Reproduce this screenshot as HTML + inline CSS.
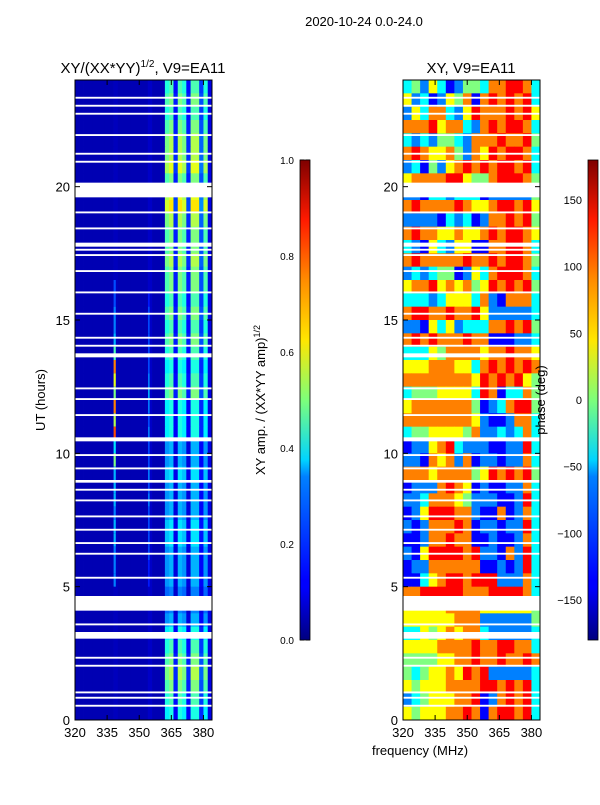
<!DOCTYPE html>
<html><head><meta charset="utf-8">
<style>
body{margin:0;background:#fff;}
svg text{font-family:"Liberation Sans",sans-serif;fill:#000;}
</style></head>
<body>
<svg id="fig" width="600" height="800" xmlns="http://www.w3.org/2000/svg">
<defs>
<linearGradient id="jet" x1="0" y1="1" x2="0" y2="0">
<stop offset="0" stop-color="#00007f"/><stop offset="0.11" stop-color="#0000ff"/>
<stop offset="0.125" stop-color="#0000ff"/><stop offset="0.34" stop-color="#0080ff"/>
<stop offset="0.375" stop-color="#00d4ff"/><stop offset="0.5" stop-color="#7dff7a"/>
<stop offset="0.625" stop-color="#ffe600"/><stop offset="0.75" stop-color="#ff8c00"/>
<stop offset="0.875" stop-color="#ff1a00"/><stop offset="1" stop-color="#7f0000"/>
</linearGradient>
</defs>
<text x="364" y="26" font-size="13" text-anchor="middle">2020-10-24 0.0-24.0</text>
<text x="143" y="73" font-size="15" text-anchor="middle">XY/(XX*YY)<tspan font-size="10" dy="-6">1/2</tspan><tspan dy="6">, V9=EA11</tspan></text>
<text x="471" y="73" font-size="15" text-anchor="middle">XY, V9=EA11</text>
<g id="left"></g>
<g id="right"></g>
<g id="axes"></g>
<rect x="300" y="160" width="10" height="480" fill="url(#jet)" stroke="#000" stroke-width="0.8"/>
<rect x="588" y="160" width="10" height="480" fill="url(#jet)" stroke="#000" stroke-width="0.8"/>
<text transform="translate(265,400) rotate(-90)" font-size="13" text-anchor="middle">XY amp. / (XX*YY amp)<tspan font-size="9" dy="-5">1/2</tspan></text>
<text transform="translate(545,400) rotate(-90)" font-size="13" text-anchor="middle">phase (deg)</text>
<text transform="translate(45,400) rotate(-90)" font-size="13" text-anchor="middle">UT (hours)</text>
<text x="420" y="755" font-size="13" text-anchor="middle">frequency (MHz)</text>
</svg>
<script>
const colProfile=[0.05,0.05,0.05,0.05,0.05,0.05,0.05,0.05,0.05,0.06,0.05,0.05,0.05,0.05,0.05,0.05,0.05,0.07,0.05,0.05,0.05,0.45,0.5,0.15,0.5,0.45,0.15,0.5,0.5,0.2,0.45,0.1];
const rowLevel=[0.9,1.0,0.9,1.0,1.1,1.1,1.2,1.0,1.2,1.3,1.1,1.0,1.0,1.1,1.0,1.0,0.9,1.0,0.9,1.0,0.9,0.8,0.9,1.0,0.8,0.8,0.8,0.6,0.6,0.7,0.6,0.6,0.6,0.7,0.7,0.6,0.6,0.6,0.5,0.5,0.6,0.8,0.9,1.0,1.1,1.0,0.9,0.8];
const streakFreq=338.5;
const streakVals=[0,0,0,0,0,0,0,0,0,0,0,0,0,0,0,0.2,0.2,0.25,0.25,0.3,0.45,0.75,0.6,0.5,0.75,0.55,0.8,0.35,0.5,0.3,0.3,0.3,0.25,0.3,0.3,0.25,0.25,0.25,0,0,0,0,0,0,0,0,0,0];
const lineFreq=354.5;
const lineVals=[0,0,0,0,0,0,0,0,0,0,0,0,0,0,0,0,0.15,0.2,0.2,0.2,0.2,0.2,0.25,0.3,0.25,0.2,0.25,0.2,0.2,0.25,0.2,0.25,0.2,0.2,0.2,0.2,0.15,0.15,0,0,0,0,0,0,0,0,0,0];
const phaseRows=["3425312443667763","5231254616767673","2536632576667675","6667566326767763","3232443266676674","6765564265767763","2314256767677673","5666677544677764","2213323331222224","6766667655677675","2222132312667674","6766556556767765","3215325511667763","6766666766767764","2323441253677763","5667565645767674","3332355536216663","6776676675222223","2215352333667674","6767666766111223","3335466665667665","5556665536767676","6666666657676754","3444555537613364","5666666641236774","6666666652112663","3445555462232363","1225673222112273","2216562612212263","6665666645767674","1222676512112263","2236665422211273","1257776621161263","2126667612212273","1126676611211263","2157777672216273","1226666661121273","1135677677722263","6677777666777763","5555566665555554","5555556662222224","3354565663222223","5555666676677663","4444556676676676","4345565767222223","5455566667767673","2345556671267673","5455566761677673"];
const gapStarts=[19.6,4.1,3.05,10.45,13.6,17.75,8.9,3.55,23.0,22.7,21.9,21.2,20.9,18.4,17.4,17.6,16.8,15.2,14.3,14.0,12.4,11.4,9.9,9.4,8.6,8.2,7.6,7.1,6.6,6.2,5.3,2.0,1.0,0.8,0.5,2.3,23.3,19.0,16.0,12.0];
const gapEnds=[20.15,4.65,3.3,10.6,13.75,17.9,9.0,3.62,23.07,22.77,21.97,21.27,20.97,18.47,17.47,17.67,16.87,15.27,14.37,14.07,12.47,11.47,9.97,9.47,8.67,8.27,7.67,7.17,6.67,6.27,5.37,2.07,1.07,0.87,0.57,2.37,23.37,19.07,16.07,12.07];
const xTicks=[320,335,350,365,380];
const yTicks=[0,5,10,15,20];
const ampTicks=[0.0,0.2,0.4,0.6,0.8,1.0];
const phaseTicks=[-150,-100,-50,0,50,100,150];

const NS="http://www.w3.org/2000/svg";
const fmin=320,fmax=384,yTop=80,yBot=720;
function yS(t){return yBot-(t/24)*(yBot-yTop);}
function xS(px0,f){return px0+(f-fmin)/(fmax-fmin)*137;}
function jet(v){v=Math.max(0,Math.min(1,v));
 const r=Math.max(0,Math.min(1,1.5-Math.abs(4*v-3))),g=Math.max(0,Math.min(1,1.5-Math.abs(4*v-2))),b=Math.max(0,Math.min(1,1.5-Math.abs(4*v-1)));
 return `rgb(${Math.round(r*255)},${Math.round(g*255)},${Math.round(b*255)})`;}
function mk(tag,attrs,parent){const e=document.createElementNS(NS,tag);for(const k in attrs)e.setAttribute(k,attrs[k]);parent.appendChild(e);return e;}
const L=document.getElementById('left'),R=document.getElementById('right'),A=document.getElementById('axes');
const nR=rowLevel.length,dt=24/nR;
const dfL=(fmax-fmin)/colProfile.length;
for(let r=0;r<nR;r++){const t1=24-r*dt,t0=t1-dt;
 for(let c=0;c<colProfile.length;c++){
  let v=colProfile[c]>0.1?colProfile[c]*rowLevel[r]:colProfile[c];
  const x0=xS(75,fmin+c*dfL),x1=xS(75,fmin+(c+1)*dfL);
  const e=mk('rect',{x:x0,y:yS(t1),width:x1-x0+0.4,height:yS(t0)-yS(t1)+0.4,fill:jet(v)},L);
  
  
 }
 if(streakVals[r]>0){
  const s=mk('rect',{x:xS(75,streakFreq)-1,y:yS(t1),width:2.2,height:yS(t0)-yS(t1)+0.4,fill:jet(streakVals[r])},L);
  
  
 }
 if(lineVals[r]>0){
  const s=mk('rect',{x:xS(75,lineFreq)-0.8,y:yS(t1),width:1.6,height:yS(t0)-yS(t1)+0.4,fill:jet(lineVals[r])},L);
  
  
 }
}
const nC=phaseRows[0].length,dfR=(fmax-fmin)/nC;
for(let r=0;r<phaseRows.length;r++){const t1=24-r*dt,t0=t1-dt;
 for(let c=0;c<nC;c++){const d=+phaseRows[r][c];const ph=-180+d*45;
  const x0=xS(403,fmin+c*dfR),x1=xS(403,fmin+(c+1)*dfR);
  const e=mk('rect',{x:x0,y:yS(t1),width:x1-x0+0.4,height:yS(t0)-yS(t1)+0.4,fill:jet((ph+180)/360)},R);
  
  
 }}
for(let i=0;i<gapStarts.length;i++){for(const px0 of [75,403]){
 const e=mk('rect',{x:px0,y:yS(gapEnds[i]),width:137,height:yS(gapStarts[i])-yS(gapEnds[i]),fill:'#fff'},A);
 
 
}}
for(const px0 of [75,403]){
 const fr=mk('rect',{x:px0,y:yTop,width:137,height:yBot-yTop,fill:'none',stroke:'#000','stroke-width':1},A);
 
 
 xTicks.forEach(f=>{const x=xS(px0,f);
  mk('line',{x1:x,x2:x,y1:yBot,y2:yBot-5,stroke:'#000'},A);mk('line',{x1:x,x2:x,y1:yTop,y2:yTop+5,stroke:'#000'},A);
  const t=mk('text',{x:x,y:yBot+17,'font-size':13,'text-anchor':'middle'},A);t.textContent=f;
  
  });
 yTicks.forEach(v=>{const y=yS(v);
  mk('line',{x1:px0,x2:px0+5,y1:y,y2:y,stroke:'#000'},A);mk('line',{x1:px0+137,x2:px0+132,y1:y,y2:y,stroke:'#000'},A);
  const t=mk('text',{x:px0-5,y:y+5,'font-size':13,'text-anchor':'end'},A);t.textContent=v;
  
  });
}
ampTicks.forEach(v=>{const y=640-v*480;
 mk('line',{x1:300,x2:304,y1:y,y2:y,stroke:'#000'},A);mk('line',{x1:310,x2:306,y1:y,y2:y,stroke:'#000'},A);
 const t=mk('text',{x:294,y:y+4,'font-size':10,'text-anchor':'end'},A);t.textContent=v.toFixed(1);
 
 });
phaseTicks.forEach(v=>{const y=400-v*480/360;
 mk('line',{x1:588,x2:592,y1:y,y2:y,stroke:'#000'},A);mk('line',{x1:598,x2:594,y1:y,y2:y,stroke:'#000'},A);
 const t=mk('text',{x:582,y:y+4,'font-size':11,'text-anchor':'end'},A);t.textContent=v<0?'\u2212'+(-v):v;
 
 });
</script>
</body></html>
